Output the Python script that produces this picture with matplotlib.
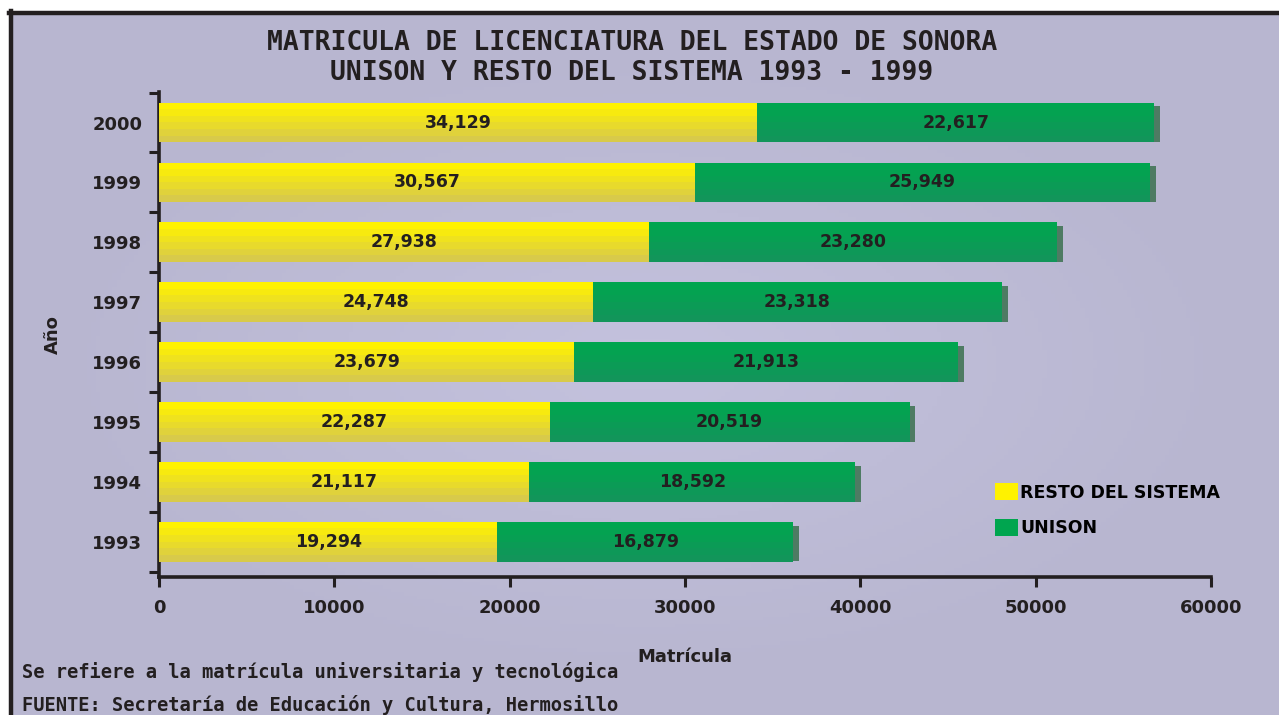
import matplotlib
matplotlib.use("Agg")
import matplotlib.pyplot as plt
import numpy as np
from matplotlib.colors import to_rgb
from matplotlib.lines import Line2D
from matplotlib.patches import Patch

# === Data ===
years = ["1993", "1994", "1995", "1996", "1997", "1998", "1999", "2000"]
resto = [19294, 21117, 22287, 23679, 24748, 27938, 30567, 34129]
unison = [16879, 18592, 20519, 21913, 23318, 23280, 25949, 22617]
x_ticks = [0, 10000, 20000, 30000, 40000, 50000, 60000]

SANS = ["DejaVu Sans"]
MONO = ["DejaVu Sans Mono"]
INK = "#231f20"

fig = plt.figure(figsize=(12.79, 7.15), dpi=100, facecolor="white")

# --- background panel with soft lighter centre ---
bg = fig.add_axes([11 / 1279, 0, 1 - 11 / 1279, 1 - 13 / 715], zorder=-5)
gx, gy = np.meshgrid(np.linspace(-1, 1, 300), np.linspace(-1, 1, 200))
r = np.clip(np.sqrt((gx / 0.95) ** 2 + (gy / 0.9) ** 2), 0, 1)
c_out, c_in = np.array(to_rgb("#b8b6d0")), np.array(to_rgb("#c4c2de"))
img = c_in[None, None, :] * (1 - r[..., None]) + c_out[None, None, :] * r[..., None]
bg.imshow(img, aspect="auto", extent=[0, 1, 0, 1])
bg.axis("off")

# frame lines (top and left)
fig.add_artist(Line2D([9 / 1279, 1], [1 - 13 / 715, 1 - 13 / 715], color=INK, lw=3.2))
fig.add_artist(Line2D([11 / 1279, 11 / 1279], [0, 1 - 11 / 715], color=INK, lw=3.2))

# --- main axes ---
ax = fig.add_axes([159 / 1279, 1 - 577 / 715, 1052 / 1279, 485 / 715])
ax.patch.set_alpha(0)

y = np.arange(len(years))
h = 0.66
resto_arr = np.array(resto)
uni_arr = np.array(unison)
totals = resto_arr + uni_arr

def gradient_barh(ypos, widths, lefts, top_col, bot_col, n=6):
    top, bot = np.array(to_rgb(top_col)), np.array(to_rgb(bot_col))
    for i in range(n):
        t = i / (n - 1)
        col = top * (1 - t) + bot * t
        yc = ypos + h / 2 - (i + 0.5) * h / n
        ax.barh(yc, widths, height=h / n + 0.004, left=lefts, color=col,
                edgecolor="none", zorder=3)

# shadow on the right end
ax.barh(y - 0.03, totals + 330, height=h - 0.06, color="#4e7b63", zorder=2)
gradient_barh(y, resto_arr, 0, "#fff200", "#d8ca4a")
gradient_barh(y, uni_arr, resto_arr, "#00a54f", "#12955a")

for yi, a, b in zip(y, resto_arr, uni_arr):
    ax.text(a / 2, yi, f"{a:,}", ha="center", va="center", fontsize=12.5,
            fontweight="bold", family=SANS, color=INK, zorder=5)
    ax.text(a + b / 2, yi, f"{b:,}", ha="center", va="center", fontsize=12.5,
            fontweight="bold", family=SANS, color=INK, zorder=5)

ax.set_xlim(0, 60000)
ax.set_ylim(-0.59, 7.51)
ax.set_xticks(x_ticks)
ax.set_xticklabels([str(v) for v in x_ticks], fontsize=13, fontweight="bold",
                   family=SANS, color=INK)
ax.set_yticks(y)
ax.set_yticklabels(years, fontsize=13, fontweight="bold", family=SANS, color=INK)
ax.set_yticks(np.arange(len(years) + 1) - 0.5, minor=True)
ax.tick_params(axis="y", which="major", length=0, pad=12)
ax.tick_params(axis="y", which="minor", length=7, width=2.2, color=INK)
ax.tick_params(axis="x", length=7, width=2.2, color=INK, pad=9)

for s in ["top", "right"]:
    ax.spines[s].set_visible(False)
for s in ["left", "bottom"]:
    ax.spines[s].set_linewidth(2.6)
    ax.spines[s].set_color(INK)

ax.set_xlabel("Matrícula", fontsize=13, fontweight="bold", family=SANS,
              color=INK, labelpad=22)
ax.set_ylabel("Año", fontsize=13, fontweight="bold", family=SANS,
              color=INK, labelpad=22)

# legend
handles = [Patch(facecolor="#fff200", label="RESTO DEL SISTEMA"),
           Patch(facecolor="#00a54f", label="UNISON")]
ax.legend(handles=handles, loc="upper left", bbox_to_anchor=(0.78, 0.225),
          frameon=False, handlelength=1.3, handleheight=1.1, handletextpad=0.15,
          labelspacing=1.0, prop={"family": SANS, "weight": "bold", "size": 12.5})

# title
fig.text(0.494, 1 - 43 / 715, "MATRICULA DE LICENCIATURA DEL ESTADO DE SONORA",
         ha="center", va="center", fontsize=19, fontweight="bold", family=MONO, color=INK)
fig.text(0.494, 1 - 73 / 715, "UNISON Y RESTO DEL SISTEMA 1993 - 1999",
         ha="center", va="center", fontsize=19, fontweight="bold", family=MONO, color=INK)

# footnotes
fig.text(22 / 1279, 1 - 672 / 715, "Se refiere a la matrícula universitaria y tecnológica",
         ha="left", va="center", fontsize=13.5, fontweight="bold", family=MONO, color=INK)
fig.text(22 / 1279, 1 - 705 / 715, "FUENTE: Secretaría de Educación y Cultura, Hermosillo",
         ha="left", va="center", fontsize=13.5, fontweight="bold", family=MONO, color=INK)

fig.savefig("out.png", dpi=100, facecolor="white")
